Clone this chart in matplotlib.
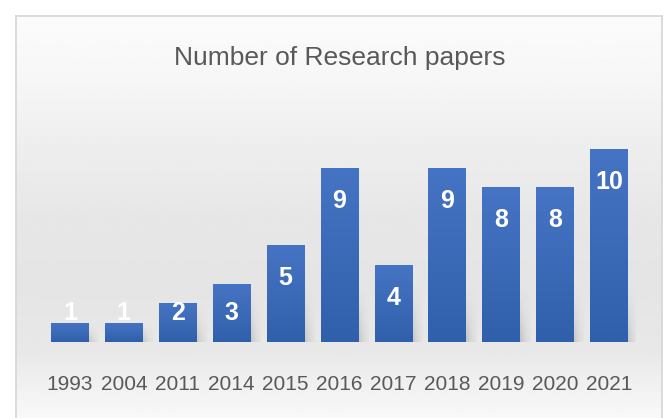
import matplotlib.pyplot as plt
import numpy as np
from matplotlib.colors import LinearSegmentedColormap

years = ["1993", "2004", "2011", "2014", "2015", "2016", "2017", "2018", "2019", "2020", "2021"]
papers = [1, 1, 2, 3, 5, 9, 4, 9, 8, 8, 10]

plt.rcParams["font.family"] = ["Liberation Sans", "DejaVu Sans"]

W, H = 664, 418
fig = plt.figure(figsize=(W / 100, H / 100), dpi=100)
fig.patch.set_facecolor("white")

# chart area with soft grey vertical gradient
bg = fig.add_axes([16 / W, 0, (662 - 16) / W, (H - 16) / H], zorder=0)
shade = np.array([0.985, 0.965, 0.93, 0.905, 0.895, 0.91, 0.975])
pos = np.linspace(0, 1, len(shade))
rows = np.interp(np.linspace(0, 1, 256), pos, shade)
bg.imshow(rows[:, None] * np.ones((1, 4)), cmap="gray", vmin=0, vmax=1,
          aspect="auto", extent=[0, 1, 0, 1])
bg.set_xlim(0, 1)
bg.set_ylim(0, 1)
bg.set_xticks([])
bg.set_yticks([])
for s in bg.spines.values():
    s.set_color("#d6d6d6")
    s.set_linewidth(1.2)
bg.spines["bottom"].set_visible(False)

ax = fig.add_axes([43 / W, (H - 342) / H, (636 - 43) / W, (342 - 110) / H], zorder=1)
ax.patch.set_alpha(0)
x = np.arange(len(years))
width = 0.7

bar_cmap = LinearSegmentedColormap.from_list("bar", ["#3060ab", "#4674c4"])
grad = np.linspace(0, 1, 128)[:, None]

# soft shadow behind the lower part of each bar, fading upwards
sh_h = np.linspace(1, 0, 64)[:, None] ** 1.6
sh_w = np.exp(-((np.linspace(-1, 1, 64)[None, :]) ** 2) / 0.35)
shadow = np.zeros((64, 64, 4))
shadow[..., :3] = 0.3
shadow[..., 3] = 0.6 * sh_h * sh_w
for xi, v in zip(x, papers):
    top = min(v, 3.2)
    ax.imshow(shadow, extent=[xi - width / 2 + 0.04, xi + width / 2 + 0.18, 0, top],
              aspect="auto", zorder=1, origin="lower")

bars = ax.bar(x, papers, width=width, color="#3d6ab9", zorder=2)
for b in bars:
    x0, y0 = b.get_x(), b.get_y()
    im = ax.imshow(grad, cmap=bar_cmap, aspect="auto", origin="lower",
                   extent=[x0, x0 + b.get_width(), y0, y0 + b.get_height()], zorder=2)
    im.set_clip_path(b)

for xi, v in zip(x, papers):
    ax.text(xi, max(v - 1.7, 1.5), str(v), ha="center", va="center",
            color="white", fontsize=18, fontweight="bold", zorder=3)

ax.set_xlim(-0.5, len(years) - 0.5)
ax.set_ylim(0, 12)
ax.set_xticks(x)
ax.set_xticklabels(years, fontsize=15, color="#595959")
ax.tick_params(axis="x", length=0, pad=24)
ax.set_yticks([])
for s in ax.spines.values():
    s.set_visible(False)

fig.text(340 / W, 1 - 58 / H, "Number of Research papers", ha="center", va="center",
         fontsize=19, color="#595959")

fig.savefig("out.png", dpi=100)
